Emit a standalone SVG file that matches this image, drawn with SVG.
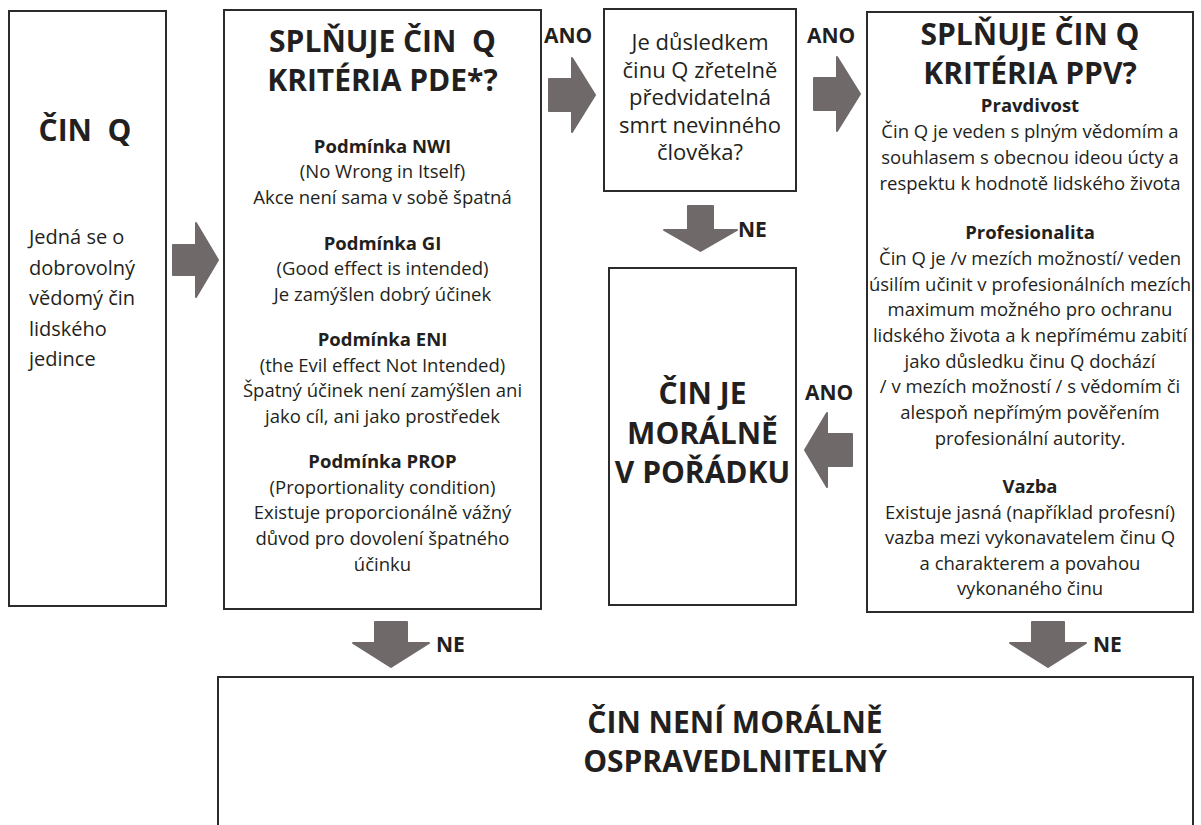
<svg xmlns="http://www.w3.org/2000/svg" width="1201" height="825" viewBox="0 0 1201 825">
<style>
.box{fill:#fff;stroke:#2b2b2b;stroke-width:2}
.arrow{fill:#6f6a69;stroke:#6f6a69;stroke-width:2;stroke-linejoin:round}
.t{font-family:"Open Sans","Noto Sans",sans-serif;fill:#231f20}
.title{font-size:30px;font-weight:700;text-anchor:middle}
.head{font-size:18.5px;font-weight:700;text-anchor:middle}
.body{font-size:18.5px;text-anchor:middle}
.q{font-size:22px;text-anchor:middle}
.side{font-size:20px}
.lbl{font-size:21px;font-weight:700}
</style>
<rect width="1201" height="825" fill="#fff"/>
<g id="connectors">
<path class="arrow" d="M173,245 L196,245 L196,223 L218,260 L196,297 L196,275 L173,275 Z"/>
<path class="arrow" d="M549,79 L572,79 L572,58 L595,95 L572,132 L572,111 L549,111 Z"/>
<path class="arrow" d="M814,78 L837,78 L837,57 L860,94 L837,131 L837,110 L814,110 Z"/>
<path class="arrow" d="M852,434 L827,434 L827,413 L805,450 L827,487 L827,466 L852,466 Z"/>
<path class="arrow" d="M688,206 L713,206 L713,230 L737,230 L700.5,251 L664,230 L688,230 Z"/>
<path class="arrow" d="M375,622 L407,622 L407,643 L429,643 L391,667 L353,643 L375,643 Z"/>
<path class="arrow" d="M1032,622 L1064,622 L1064,643 L1086,643 L1048,667 L1010,643 L1032,643 Z"/>
<text class="t lbl" x="544" y="43">ANO</text>
<text class="t lbl" x="807" y="43">ANO</text>
<text class="t lbl" x="805" y="400">ANO</text>
<text class="t lbl" x="738" y="237">NE</text>
<text class="t lbl" x="436" y="652">NE</text>
<text class="t lbl" x="1093" y="652">NE</text>
</g>
<g id="cin-q">
<rect class="box" x="9" y="11" width="157" height="595"/>
<text class="t title" font-size="27" x="85" y="141" xml:space="preserve">ČIN  Q</text>
<text class="t side" x="29" y="244">Jedná se o</text>
<text class="t side" x="29" y="275">dobrovolný</text>
<text class="t side" x="29" y="305">vědomý čin</text>
<text class="t side" x="29" y="336">lidského</text>
<text class="t side" x="29" y="366">jedince</text>
</g>
<g id="pde">
<rect class="box" x="224" y="10" width="317" height="599"/>
<text class="t title" font-size="31" x="382.5" y="52" xml:space="preserve">SPLŇUJE ČIN  Q</text>
<text class="t title" font-size="31" x="382.5" y="91">KRITÉRIA PDE*?</text>
<text class="t head" x="382.5" y="153">Podmínka NWI</text>
<text class="t body" x="382.5" y="178">(No Wrong in Itself)</text>
<text class="t body" x="382.5" y="204">Akce není sama v sobě špatná</text>
<text class="t head" x="382.5" y="250">Podmínka GI</text>
<text class="t body" x="382.5" y="275">(Good effect is intended)</text>
<text class="t body" x="382.5" y="301">Je zamýšlen dobrý účinek</text>
<text class="t head" x="382.5" y="346">Podmínka ENI</text>
<text class="t body" x="382.5" y="372">(the Evil effect Not Intended)</text>
<text class="t body" x="382.5" y="397">Špatný účinek není zamýšlen ani</text>
<text class="t body" x="382.5" y="423">jako cíl, ani jako prostředek</text>
<text class="t head" x="382.5" y="468">Podmínka PROP</text>
<text class="t body" x="382.5" y="494">(Proportionality condition)</text>
<text class="t body" x="382.5" y="519">Existuje proporcionálně vážný</text>
<text class="t body" x="382.5" y="545">důvod pro dovolení špatného</text>
<text class="t body" x="382.5" y="571">účinku</text>
</g>
<g id="otazka">
<rect class="box" x="604" y="9" width="192" height="182"/>
<text class="t q" x="700" y="50">Je důsledkem</text>
<text class="t q" x="700" y="77.5">činu Q zřetelně</text>
<text class="t q" x="700" y="105">předvidatelná</text>
<text class="t q" x="700" y="132.5">smrt nevinného</text>
<text class="t q" x="700" y="160">člověka?</text>
</g>
<g id="ppv">
<rect class="box" x="867" y="12" width="326" height="600"/>
<text class="t title" font-size="28" x="1030" y="45">SPLŇUJE ČIN Q</text>
<text class="t title" font-size="28" x="1030" y="84">KRITÉRIA PPV?</text>
<text class="t head" x="1030" y="112">Pravdivost</text>
<text class="t body" x="1030" y="138">Čin Q je veden s plným vědomím a</text>
<text class="t body" x="1030" y="164">souhlasem s obecnou ideou úcty a</text>
<text class="t body" x="1030" y="190">respektu k hodnotě lidského života</text>
<text class="t head" x="1030" y="239">Profesionalita</text>
<text class="t body" x="1030" y="265">Čin Q je /v mezích možností/ veden</text>
<text class="t body" x="1030" y="291">úsilím učinit v profesionálních mezích</text>
<text class="t body" x="1030" y="316">maximum možného pro ochranu</text>
<text class="t body" x="1030" y="342">lidského života a k nepřímému zabití</text>
<text class="t body" x="1030" y="368">jako důsledku činu Q dochází</text>
<text class="t body" x="1030" y="393">/ v mezích možností / s vědomím či</text>
<text class="t body" x="1030" y="419">alespoň nepřímým pověřením</text>
<text class="t body" x="1030" y="445">profesionální autority.</text>
<text class="t head" x="1030" y="493">Vazba</text>
<text class="t body" x="1030" y="519">Existuje jasná (například profesní)</text>
<text class="t body" x="1030" y="544">vazba mezi vykonavatelem činu Q</text>
<text class="t body" x="1030" y="570">a charakterem a povahou</text>
<text class="t body" x="1030" y="595">vykonaného činu</text>
</g>
<g id="ok">
<rect class="box" x="609" y="268" width="187" height="337"/>
<text class="t title" font-size="29" x="702.5" y="404">ČIN JE</text>
<text class="t title" font-size="29" x="702.5" y="444">MORÁLNĚ</text>
<text class="t title" font-size="29" x="702.5" y="483">V POŘÁDKU</text>
</g>
<g id="neospravedlnitelny">
<rect class="box" x="218" y="677" width="975" height="170"/>
<text class="t title" x="735" y="733">ČIN NENÍ MORÁLNĚ</text>
<text class="t title" x="735" y="772">OSPRAVEDLNITELNÝ</text>
</g>
</svg>
